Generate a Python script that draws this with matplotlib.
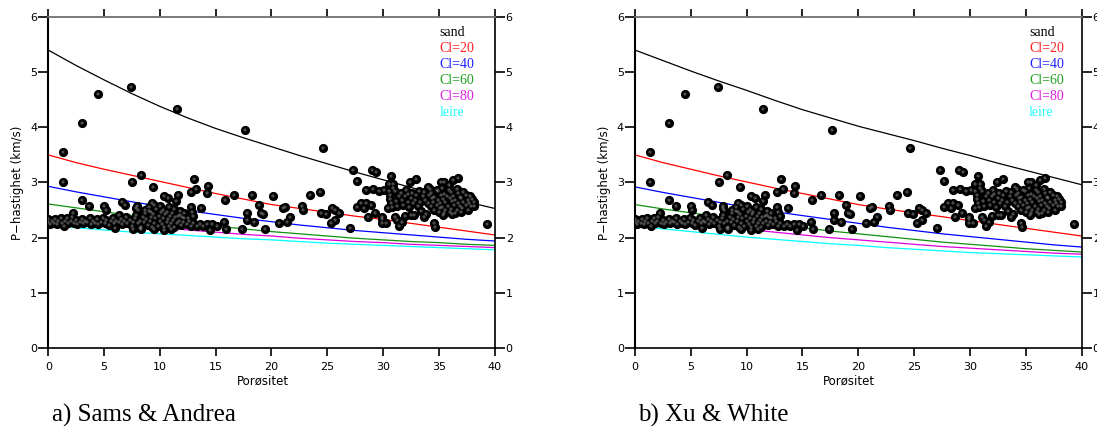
import matplotlib.pyplot as plt

# porositet-verdier for modellkurvene
phi = [0, 2.5, 5, 7.5, 10, 12.5, 15, 17.5, 20, 22.5, 25, 27.5, 30, 32.5, 35, 37.5, 40]

# a) Sams & Andrea
sa_sand = [5.40, 5.12, 4.86, 4.61, 4.38, 4.17, 3.98, 3.81, 3.65, 3.49, 3.34, 3.19, 3.05, 2.91, 2.78, 2.65, 2.53]
sa_cl20 = [3.50, 3.36, 3.24, 3.13, 3.02, 2.91, 2.80, 2.70, 2.60, 2.53, 2.46, 2.39, 2.33, 2.26, 2.19, 2.12, 2.05]
sa_cl40 = [2.93, 2.83, 2.74, 2.65, 2.57, 2.49, 2.42, 2.35, 2.29, 2.23, 2.18, 2.13, 2.09, 2.05, 2.01, 1.97, 1.94]
sa_cl60 = [2.61, 2.54, 2.47, 2.40, 2.33, 2.27, 2.21, 2.16, 2.11, 2.07, 2.03, 1.99, 1.96, 1.93, 1.91, 1.88, 1.86]
sa_cl80 = [2.38, 2.33, 2.28, 2.23, 2.19, 2.14, 2.10, 2.06, 2.03, 1.99, 1.96, 1.93, 1.91, 1.88, 1.86, 1.84, 1.82]
sa_leire = [2.22, 2.18, 2.14, 2.10, 2.07, 2.04, 2.01, 1.98, 1.96, 1.93, 1.90, 1.88, 1.86, 1.84, 1.82, 1.80, 1.78]

# b) Xu & White
xw_sand = [5.40, 5.21, 5.02, 4.84, 4.67, 4.49, 4.32, 4.17, 4.02, 3.89, 3.76, 3.62, 3.49, 3.35, 3.22, 3.09, 2.96]
xw_cl20 = [3.50, 3.36, 3.24, 3.12, 3.01, 2.90, 2.80, 2.70, 2.60, 2.52, 2.45, 2.38, 2.31, 2.24, 2.17, 2.10, 2.03]
xw_cl40 = [2.92, 2.82, 2.73, 2.64, 2.55, 2.47, 2.40, 2.33, 2.26, 2.19, 2.13, 2.07, 2.02, 1.97, 1.92, 1.87, 1.83]
xw_cl60 = [2.60, 2.52, 2.45, 2.38, 2.31, 2.24, 2.18, 2.12, 2.07, 2.02, 1.97, 1.92, 1.88, 1.84, 1.80, 1.77, 1.74]
xw_cl80 = [2.38, 2.32, 2.26, 2.20, 2.15, 2.10, 2.05, 2.00, 1.96, 1.92, 1.88, 1.84, 1.81, 1.78, 1.75, 1.72, 1.70]
xw_leire = [2.21, 2.16, 2.11, 2.06, 2.01, 1.97, 1.93, 1.89, 1.86, 1.82, 1.79, 1.76, 1.73, 1.71, 1.69, 1.67, 1.65]

kurve_navn = ['sand', 'Cl=20', 'Cl=40', 'Cl=60', 'Cl=80', 'leire']
farger = ['black', '#ff0000', '#0000ff', '#109010', '#dd00dd', '#00ffff']
tekst_farger = ['black', '#ff2020', '#2020ff', '#20a020', '#dd20dd', '#20ffff']

# maalte data (porositet i %, Vp i km/s)
por_hoy = [1.35, 1.35, 3.05, 4.5, 7.45, 11.5, 17.6, 24.6]
vp_hoy = [3.55, 3.01, 4.08, 4.61, 4.73, 4.34, 3.95, 3.63]

por_midt = [3.05, 3.65, 7.55, 8.27, 9.4, 13.05, 13.28, 12.75, 14.33, 14.24,
            11.65, 11.43, 10.36, 10.75, 15.82, 16.66, 18.27, 20.15, 23.5, 24.36]
vp_midt = [2.68, 2.58, 3.01, 3.13, 2.92, 3.06, 2.88, 2.82, 2.94, 2.81,
           2.77, 2.67, 2.76, 2.71, 2.69, 2.77, 2.77, 2.76, 2.77, 2.83]

por_ovre = [27.3, 29.0, 29.4, 27.7, 30.75, 30.5, 30.9, 32.45, 33.0, 35.2,
            35.5, 35.9, 36.3, 36.7, 28.5, 29.1, 29.65, 30.1, 32.2]
vp_ovre = [3.22, 3.22, 3.19, 3.03, 3.12, 2.98, 2.97, 3.01, 3.06, 3.01,
           3.0, 2.95, 3.04, 3.08, 2.87, 2.89, 2.84, 2.87, 2.8]

por_spredt = [5.02, 5.14, 6.57, 6.87, 7.91, 8.0, 8.66, 9.26, 12.75, 12.84,
              13.67, 13.0, 12.54,
              17.82, 18.9, 19.05, 19.25, 17.85, 18.45, 21.05, 21.2, 21.7, 22.75,
              22.8, 20.7, 21.4, 24.48, 24.93, 25.46, 25.73, 26.03, 25.3, 25.67,
              27.08, 19.47, 17.38, 15.97, 14.54, 15.76, 14.72, 15.08]
vp_spredt = [2.58, 2.5, 2.65, 2.6, 2.57, 2.5, 2.51, 2.63, 2.56, 2.47,
             2.53, 2.39, 2.35,
             2.45, 2.59, 2.45, 2.43, 2.32, 2.29, 2.53, 2.55, 2.38, 2.57,
             2.5, 2.26, 2.29, 2.45, 2.42, 2.53, 2.5, 2.45, 2.27, 2.32,
             2.17, 2.15, 2.15, 2.15, 2.14, 2.29, 2.25, 2.21]

por_hoyre = [27.7, 28.06, 28.5, 28.3, 28.9, 28.66, 29.26, 29.9, 29.9, 29.9,
             30.3, 30.45, 31.1, 31.3, 31.4, 31.7, 32.0, 32.5, 32.8, 33.7,
             34.6, 34.7, 39.35]
vp_hoyre = [2.55, 2.63, 2.63, 2.53, 2.59, 2.38, 2.44, 2.38, 2.33, 2.27,
            2.26, 2.54, 2.38, 2.32, 2.22, 2.29, 2.39, 2.41, 2.41, 2.38,
            2.27, 2.19, 2.24]

por_ekstra = [2.24, 6.34, 7.9, 7.6, 8.3, 9.5, 10.4, 11.0, 6.0, 8.2,
              9.0, 9.5, 10.0, 10.3, 10.8, 11.3, 11.8, 12.2, 9.2, 10.6,
              11.6, 12.0]
vp_ekstra = [2.45, 2.41, 2.53, 2.15, 2.16, 2.15, 2.14, 2.16, 2.18, 2.17,
             2.55, 2.6, 2.58, 2.5, 2.55, 2.52, 2.48, 2.44, 2.47, 2.47,
             2.4, 2.38]

por_band = [0.0, 0.0, 0.2, 0.3, 0.5, 0.6, 0.8, 0.9, 1.1, 1.2,
            1.4, 1.5, 1.7, 1.8, 2.0, 2.1, 2.3, 2.5, 2.6, 2.8,
            3.0, 3.1, 3.3, 3.5, 3.7, 3.8, 4.0, 4.2, 4.4, 4.5,
            4.7, 4.9, 5.1, 5.2, 5.4, 5.6, 5.8, 5.9, 6.1, 6.3,
            6.5, 6.6, 6.8, 7.0, 7.1, 7.3, 7.5, 7.6, 7.8, 7.9,
            8.0, 8.2, 8.3, 8.5, 8.6, 8.7, 8.8, 8.9, 9.0, 9.1,
            9.2, 9.3, 9.4, 9.5, 9.6, 9.7, 9.8, 9.9, 10.0, 10.1,
            10.2, 10.3, 10.4, 10.5, 10.6, 10.7, 10.8, 10.9, 11.0, 11.1,
            11.2, 11.3, 11.4, 11.5, 11.7, 11.8, 11.9, 12.1, 12.2, 12.4,
            12.6, 12.8, 13.0, 13.3, 13.6, 13.9, 14.2]
vp_band = [2.28, 2.33, 2.25, 2.31, 2.27, 2.34, 2.24, 2.30, 2.36, 2.27,
           2.22, 2.31, 2.35, 2.26, 2.30, 2.38, 2.27, 2.32, 2.24, 2.29,
           2.34, 2.26, 2.31, 2.28, 2.36, 2.24, 2.30, 2.27, 2.33, 2.25,
           2.29, 2.35, 2.27, 2.32, 2.23, 2.30, 2.36, 2.26, 2.31, 2.28,
           2.34, 2.24, 2.30, 2.37, 2.27, 2.32, 2.22, 2.29, 2.35, 2.41,
           2.26, 2.31, 2.20, 2.38, 2.28, 2.44, 2.33, 2.23, 2.48, 2.30,
           2.38, 2.20, 2.43, 2.27, 2.35, 2.52, 2.22, 2.40, 2.31, 2.46,
           2.25, 2.36, 2.19, 2.42, 2.29, 2.34, 2.22, 2.39, 2.27, 2.45,
           2.32, 2.20, 2.37, 2.26, 2.31, 2.41, 2.23, 2.29, 2.35, 2.25,
           2.31, 2.22, 2.27, 2.22, 2.24, 2.21, 2.25]

por_klynge = [30.5, 30.6, 30.6, 30.7, 30.8, 30.9, 31.1, 31.2, 31.3, 31.4,
              31.6, 31.7, 31.8, 32.0, 32.1, 32.2, 32.3, 32.5, 32.6, 32.7,
              32.9, 33.0, 33.1, 33.2, 33.3]
vp_klynge = [2.85, 2.78, 2.70, 2.62, 2.56, 2.90, 2.84, 2.66, 2.58, 2.75,
             2.81, 2.69, 2.60, 2.76, 2.86, 2.65, 2.55, 2.72, 2.81, 2.62,
             2.68, 2.77, 2.57, 2.85, 2.64]

por_sky = [34.2, 34.8, 35.3, 35.9, 36.6,
           33.7, 34.3, 34.9, 35.5, 36.1, 36.7, 37.2,
           33.6, 34.1, 34.6, 35.2, 35.7, 36.3, 36.9, 37.4, 37.8,
           33.8, 34.4, 34.9, 35.4, 36.0, 36.5, 37.0, 37.6, 38.0,
           34.0, 34.5, 35.1, 35.6, 36.2, 36.7, 37.2, 37.7, 38.2,
           34.3, 34.8, 35.3, 35.8, 36.4, 36.9, 37.4, 37.9,
           34.6, 35.1, 35.6, 36.1, 36.6, 37.1, 37.6,
           35.0, 35.5, 36.0, 36.5, 37.0,
           35.4, 36.2, 33.4, 33.9, 34.0, 38.2]
vp_sky = [2.89, 2.87, 2.90, 2.86, 2.88,
          2.83, 2.81, 2.84, 2.80, 2.83, 2.81, 2.82,
          2.75, 2.77, 2.74, 2.77, 2.75, 2.76, 2.74, 2.77, 2.75,
          2.69, 2.71, 2.68, 2.70, 2.72, 2.69, 2.71, 2.68, 2.70,
          2.63, 2.65, 2.62, 2.64, 2.66, 2.63, 2.65, 2.62, 2.64,
          2.57, 2.59, 2.56, 2.58, 2.60, 2.57, 2.59, 2.57,
          2.51, 2.53, 2.50, 2.52, 2.51, 2.53, 2.51,
          2.46, 2.44, 2.47, 2.45, 2.46,
          2.41, 2.42, 2.48, 2.42, 2.92, 2.58]

por_alle = (por_hoy + por_midt + por_ovre + por_spredt + por_hoyre
            + por_ekstra + por_band + por_klynge + por_sky)
vp_alle = (vp_hoy + vp_midt + vp_ovre + vp_spredt + vp_hoyre
           + vp_ekstra + vp_band + vp_klynge + vp_sky)

plt.rcParams['font.family'] = 'DejaVu Sans'
fig = plt.figure(figsize=(10.97, 4.30), dpi=100)


def tegn_panel(ax, kurver, tekst_x, tittel, tittel_x):
    for k, c in zip(kurver, farger):
        ax.plot(phi, k, color=c, lw=0.9, zorder=2)
    ax.plot(por_alle, vp_alle, 'o', ms=5.6, color='black', zorder=3)
    ax.plot(por_alle, vp_alle, '+', ms=3.2, mew=0.35, color='#9a9a9a', zorder=4)

    ax.set_xlim(0, 40)
    ax.set_ylim(0, 6)
    ax.set_xticks(range(0, 41, 5))
    ax.set_yticks(range(0, 7))
    ax.tick_params(axis='y', direction='out', length=7, width=1.2, labelsize=8,
                   color='black', left=True, right=True,
                   labelleft=True, labelright=True, pad=1)
    ax.tick_params(axis='x', direction='out', length=6, width=1.2, labelsize=8,
                   color='black', bottom=True, top=True, labeltop=False, pad=4)
    ax.spines['top'].set_color('#707070')
    ax.spines['top'].set_linewidth(1.3)
    ax.spines['left'].set_linewidth(1.5)
    ax.spines['right'].set_linewidth(1.2)
    ax.spines['bottom'].set_linewidth(1.2)

    ax.set_ylabel('P\u2212hastighet (km/s)', fontsize=8.5, labelpad=4)
    ax.set_xlabel('Porøsitet', fontsize=8.5, labelpad=0)
    ax.xaxis.set_label_coords(0.48, -0.08)

    for i, (navn, c) in enumerate(zip(kurve_navn, tekst_farger)):
        ax.text(tekst_x, 5.72 - 0.292 * i, navn, color=c, fontsize=10,
                family='Liberation Serif', va='center', ha='left')

    fig.text(tittel_x, 1 - 415 / 430, tittel, family='Liberation Serif',
             fontsize=18, va='center', ha='left')


ax1 = fig.add_axes([0.044, 0.1907, 0.4068, 0.7698])
tegn_panel(ax1, [sa_sand, sa_cl20, sa_cl40, sa_cl60, sa_cl80, sa_leire],
           35.1, 'a) Sams & Andrea', 52 / 1097)

ax2 = fig.add_axes([0.5789, 0.1907, 0.4070, 0.7698])
tegn_panel(ax2, [xw_sand, xw_cl20, xw_cl40, xw_cl60, xw_cl80, xw_leire],
           35.3, 'b) Xu & White', 638 / 1097)

plt.savefig('out.png', dpi=100)
